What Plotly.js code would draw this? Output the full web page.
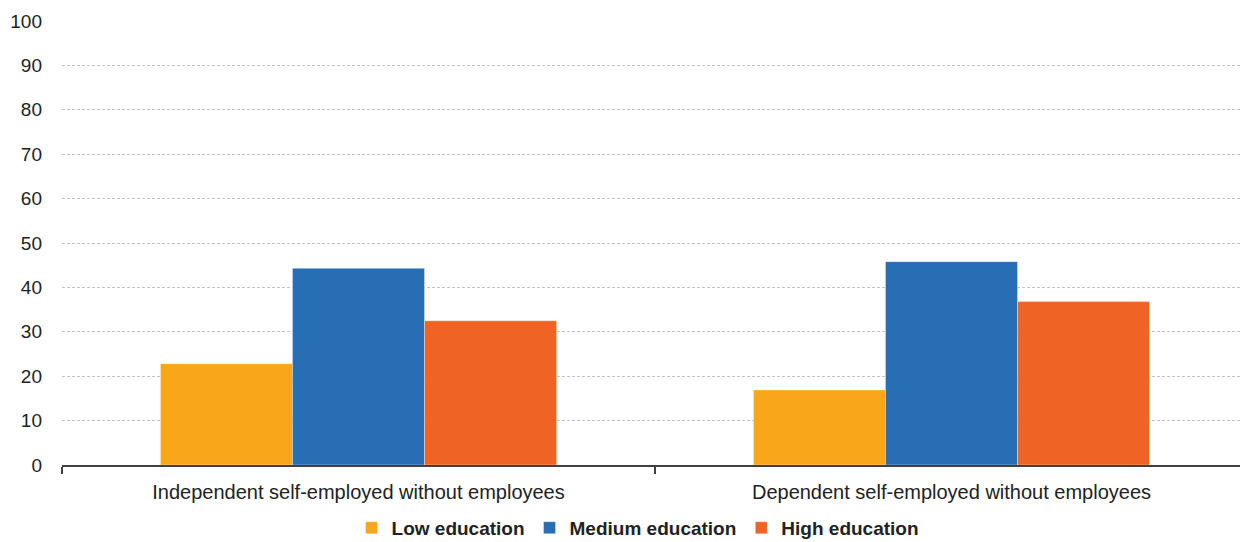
<!DOCTYPE html>
<html>
<head>
<meta charset="utf-8">
<script src="https://cdn.plot.ly/plotly-3.0.1.min.js"></script>
<style>html,body{margin:0;padding:0;background:#fff;}#chart{width:1240px;height:542px;}</style>
</head>
<body>
<div id="chart"></div>
<script>
var categories = ["Independent self-employed without employees", "Dependent self-employed without employees"];
var seriesNames = ["Low education", "Medium education", "High education"];
var lowValues = [22.8, 16.9];
var mediumValues = [44.3, 45.8];
var highValues = [32.5, 36.8];
var yTickValues = [0, 10, 20, 30, 40, 50, 60, 70, 80, 90, 100];

var colors = ["#F9A61B", "#286EB4", "#EF6424"];
var allValues = [lowValues, mediumValues, highValues];

var traces = allValues.map(function (vals, i) {
  return {
    type: "bar",
    name: seriesNames[i],
    x: categories,
    y: vals,
    marker: { color: colors[i], line: { color: "rgba(255,255,255,0.35)", width: 1 } },
    hoverinfo: "x+y+name"
  };
});

var layout = {
  width: 1240,
  height: 542,
  margin: { l: 62, r: 0, t: 21, b: 76.5, pad: 0, autoexpand: false },
  paper_bgcolor: "#ffffff",
  plot_bgcolor: "#ffffff",
  barmode: "group",
  bargap: 0.332,
  bargroupgap: 0,
  font: { family: "Liberation Sans, Arial, sans-serif", size: 19, color: "#222222" },
  xaxis: {
    type: "category",
    range: [-0.5, 1.4865],
    automargin: false,
    showgrid: false,
    showline: true,
    linecolor: "#404040",
    linewidth: 2,
    ticks: "outside",
    tickson: "boundaries",
    ticklen: 7,
    tickwidth: 2,
    tickcolor: "#404040",
    ticklabelstandoff: 8,
    tickfont: { size: 20, color: "#222222" },
    zeroline: false
  },
  yaxis: {
    range: [0, 100],
    automargin: false,
    tickvals: yTickValues,
    showline: false,
    showgrid: true,
    gridcolor: "#c4c4c4",
    griddash: "3px,2px",
    gridwidth: 1,
    zeroline: false,
    ticks: "",
    ticklabelstandoff: 19,
    tickfont: { size: 19, color: "#222222" }
  },
  showlegend: true,
  legend: {
    orientation: "h",
    x: 0.489,
    xanchor: "center",
    xref: "paper",
    y: 0.026,
    yanchor: "middle",
    yref: "container",
    font: { size: 19, color: "#222222", weight: "bold" },
    itemwidth: 30,
    traceorder: "normal",
    bgcolor: "rgba(0,0,0,0)"
  }
};

Plotly.newPlot("chart", traces, layout, { displayModeBar: false, staticPlot: true });
</script>
</body>
</html>
